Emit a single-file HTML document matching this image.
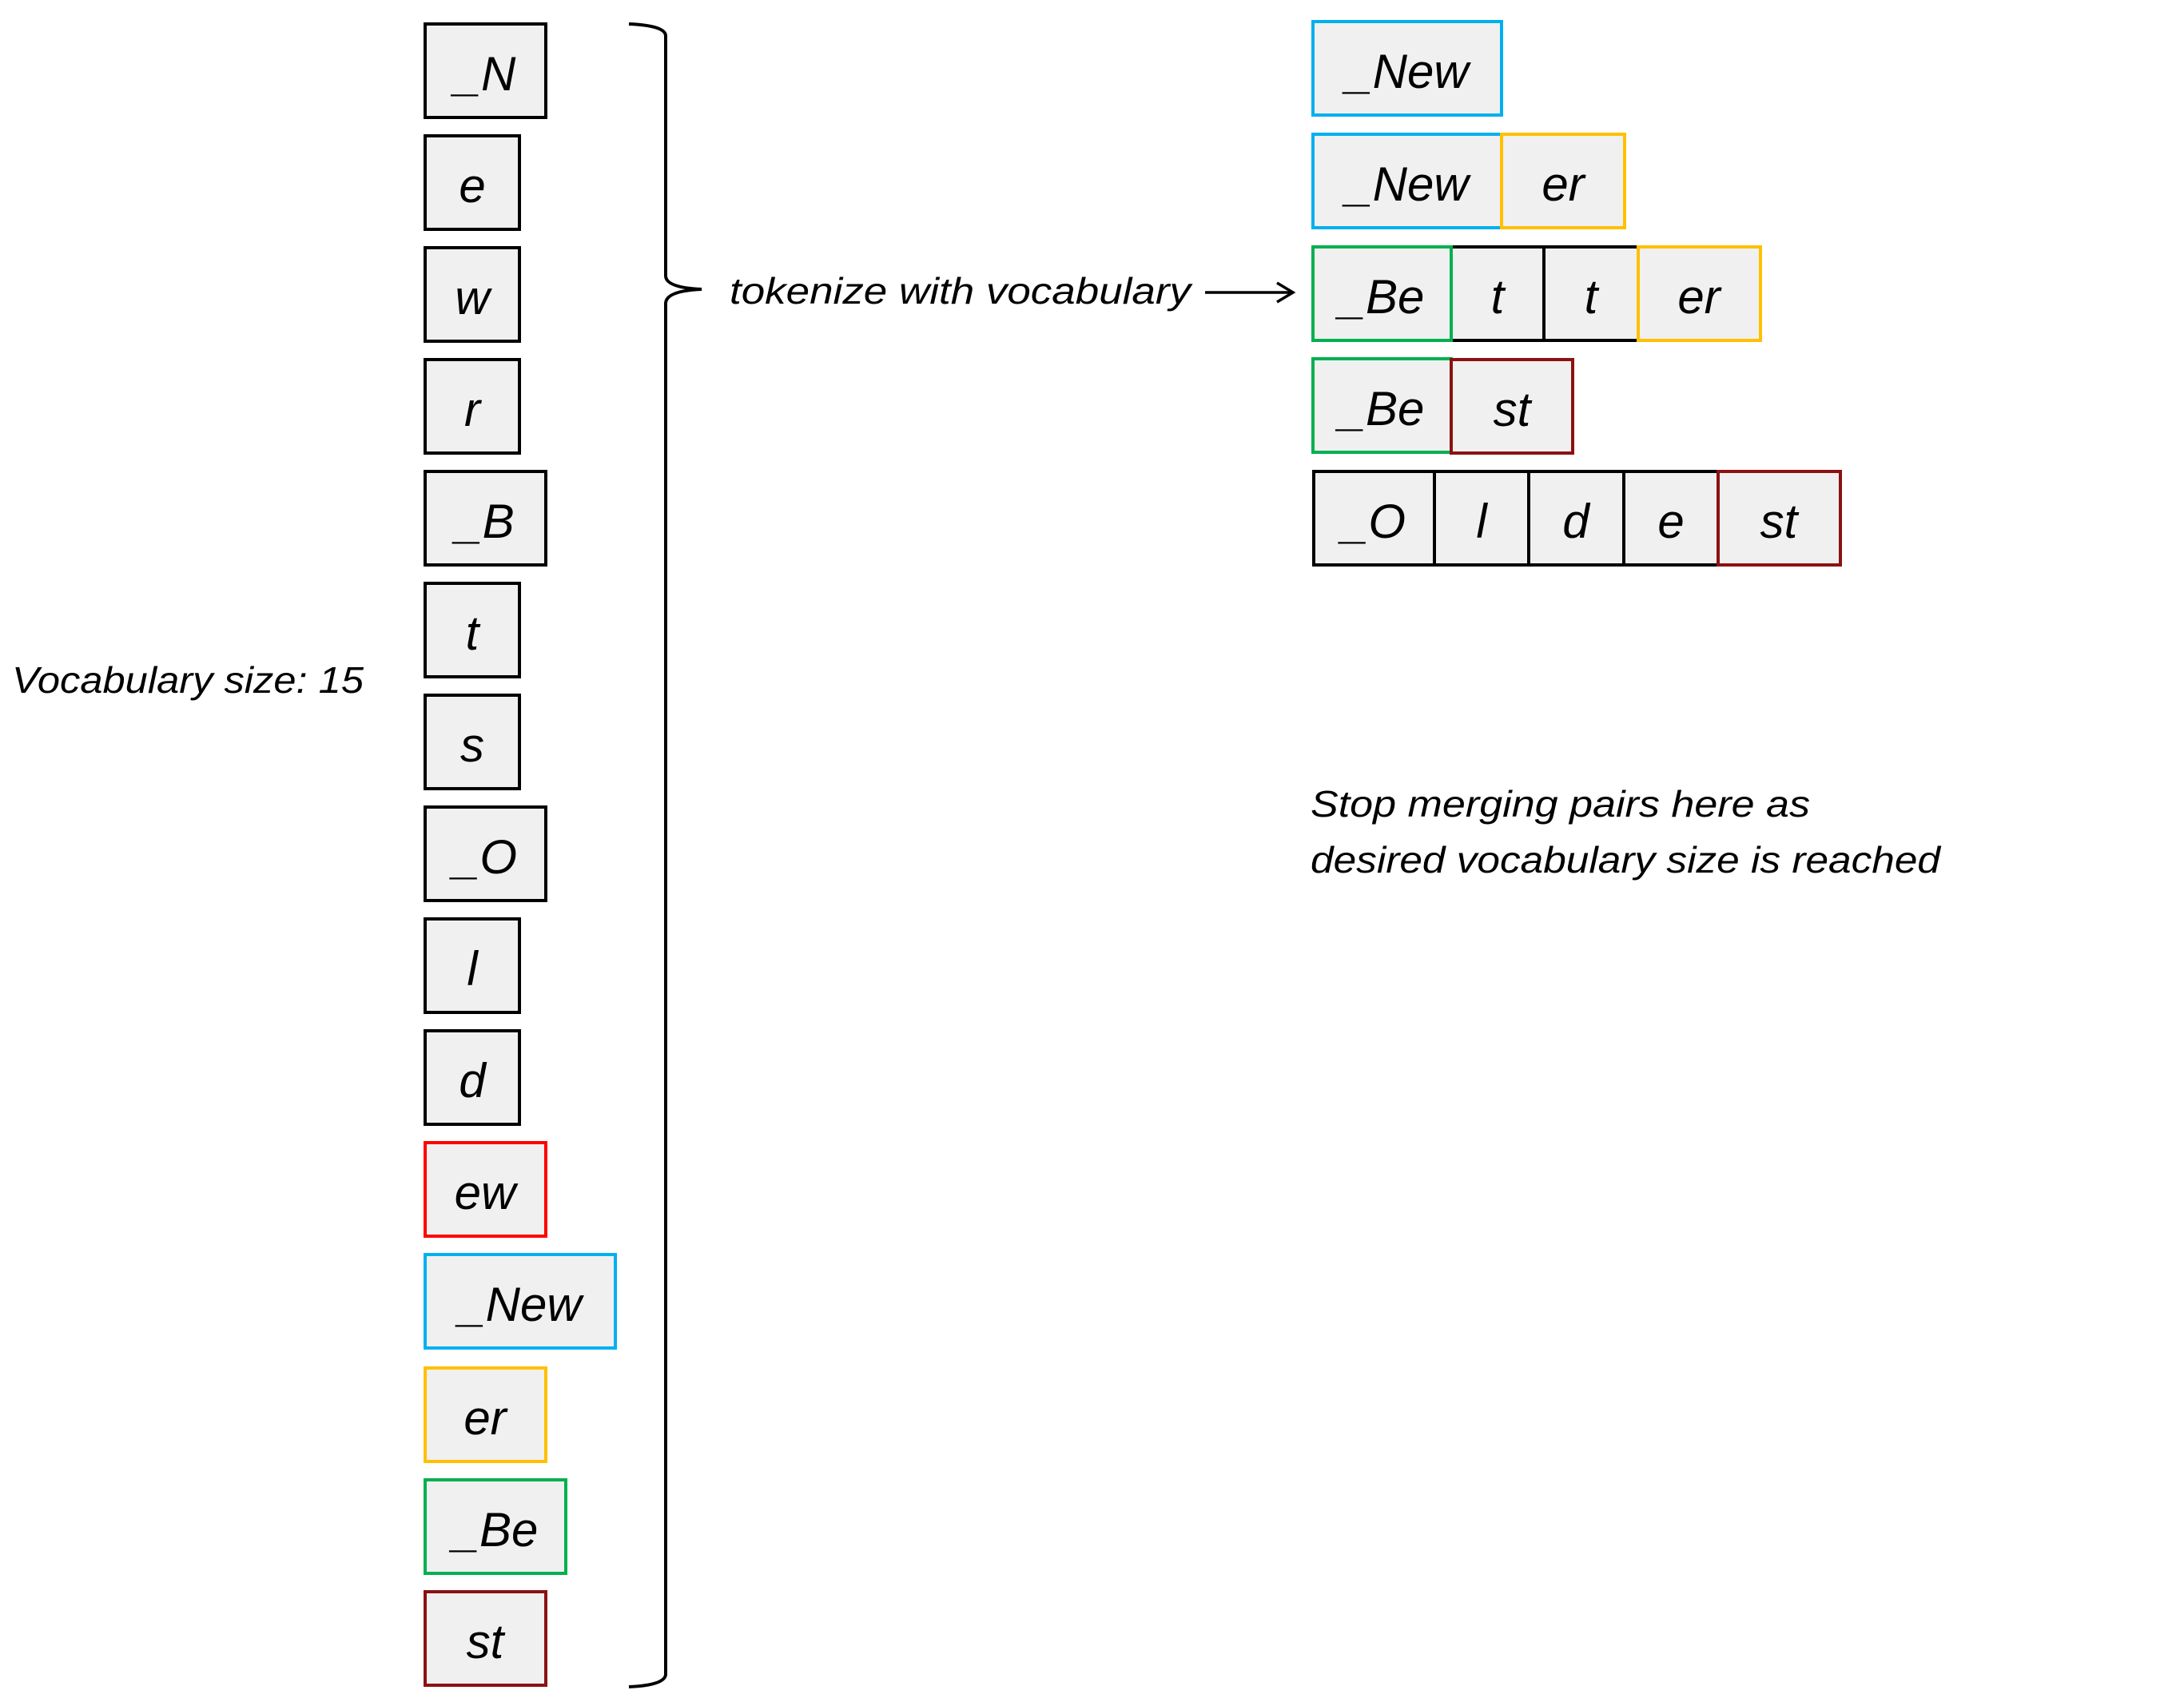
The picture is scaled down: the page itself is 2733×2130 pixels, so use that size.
<!DOCTYPE html>
<html><head><meta charset="utf-8"><style>html,body{margin:0;padding:0;background:#fff;}svg{display:block}</style></head>
<body>
<svg width="2733" height="2130" viewBox="0 0 2733 2130" xmlns="http://www.w3.org/2000/svg" font-family="Liberation Sans, sans-serif" font-style="italic">
<g stroke-width="4" fill="#f0f0f0">
<!-- left column -->
<rect x="532" y="30" width="151" height="117" stroke="#000"/>
<rect x="532" y="170" width="118" height="117" stroke="#000"/>
<rect x="532" y="310" width="118" height="117" stroke="#000"/>
<rect x="532" y="450" width="118" height="117" stroke="#000"/>
<rect x="532" y="590" width="151" height="117" stroke="#000"/>
<rect x="532" y="730" width="118" height="117" stroke="#000"/>
<rect x="532" y="870" width="118" height="117" stroke="#000"/>
<rect x="532" y="1010" width="151" height="117" stroke="#000"/>
<rect x="532" y="1150" width="118" height="117" stroke="#000"/>
<rect x="532" y="1290" width="118" height="117" stroke="#000"/>
<rect x="532" y="1430" width="151" height="117" stroke="#ff0000"/>
<rect x="532" y="1570" width="238" height="117" stroke="#00b0f0"/>
<rect x="532" y="1712" width="151" height="117" stroke="#ffc000"/>
<rect x="532" y="1852" width="176" height="117" stroke="#00b050"/>
<rect x="532" y="1992" width="151" height="117" stroke="#8b1212"/>
<!-- right -->
<rect x="1643" y="27" width="236" height="117" stroke="#00b0f0"/>
<rect x="1643" y="168" width="236" height="117" stroke="#00b0f0"/>
<rect x="1879" y="168" width="154" height="117" stroke="#ffc000"/>
<rect x="1816" y="309" width="116" height="117" stroke="#000"/>
<rect x="1932" y="309" width="118" height="117" stroke="#000"/>
<rect x="1643" y="309" width="173" height="117" stroke="#00b050"/>
<rect x="2050" y="309" width="153" height="117" stroke="#ffc000"/>
<rect x="1643" y="449" width="173" height="117" stroke="#00b050"/>
<rect x="1816" y="450" width="152" height="117" stroke="#8b1212"/>
<rect x="1644" y="590" width="151" height="117" stroke="#000"/>
<rect x="1795" y="590" width="118" height="117" stroke="#000"/>
<rect x="1913" y="590" width="119" height="117" stroke="#000"/>
<rect x="2032" y="590" width="118" height="117" stroke="#000"/>
<rect x="2150" y="590" width="153" height="117" stroke="#8b1212"/>
</g>
<g font-size="60" text-anchor="middle" fill="#000">
<text x="607" y="113">_N</text>
<text x="591" y="253">e</text>
<text x="591" y="393">w</text>
<text x="591" y="533">r</text>
<text x="607" y="673">_B</text>
<text x="591" y="813">t</text>
<text x="591" y="953">s</text>
<text x="607" y="1093">_O</text>
<text x="591" y="1233">l</text>
<text x="591" y="1373">d</text>
<text x="607" y="1513">ew</text>
<text x="651" y="1653">_New</text>
<text x="607" y="1795">er</text>
<text x="620" y="1935">_Be</text>
<text x="607" y="2075">st</text>
<text x="1761" y="110">_New</text>
<text x="1761" y="251">_New</text>
<text x="1956" y="251">er</text>
<text x="1729" y="392">_Be</text>
<text x="1874" y="392">t</text>
<text x="1991" y="392">t</text>
<text x="2126" y="392">er</text>
<text x="1729" y="532">_Be</text>
<text x="1892" y="533">st</text>
<text x="1719" y="673">_O</text>
<text x="1854" y="673">l</text>
<text x="1972" y="673">d</text>
<text x="2091" y="673">e</text>
<text x="2226" y="673">st</text>
</g>
<path d="M787 30 Q833 32 833 45 L833 345 Q833 360 878 362 Q833 364 833 380 L833 2095 Q833 2109 787 2111" fill="none" stroke="#000" stroke-width="4"/>
<g font-size="46" fill="#000">
<text x="913" y="380" textLength="577" lengthAdjust="spacingAndGlyphs">tokenize with vocabulary</text>
<text x="15" y="867" textLength="440" lengthAdjust="spacingAndGlyphs">Vocabulary size: 15</text>
<text x="1640" y="1022" textLength="625" lengthAdjust="spacingAndGlyphs">Stop merging pairs here as</text>
<text x="1640" y="1092" textLength="788" lengthAdjust="spacingAndGlyphs">desired vocabulary size is reached</text>
</g>
<line x1="1508" y1="366" x2="1616" y2="366" stroke="#000" stroke-width="3.5"/>
<path d="M1598 354 L1618 366 L1598 378" fill="none" stroke="#000" stroke-width="3.5"/>
</svg>
</body></html>
